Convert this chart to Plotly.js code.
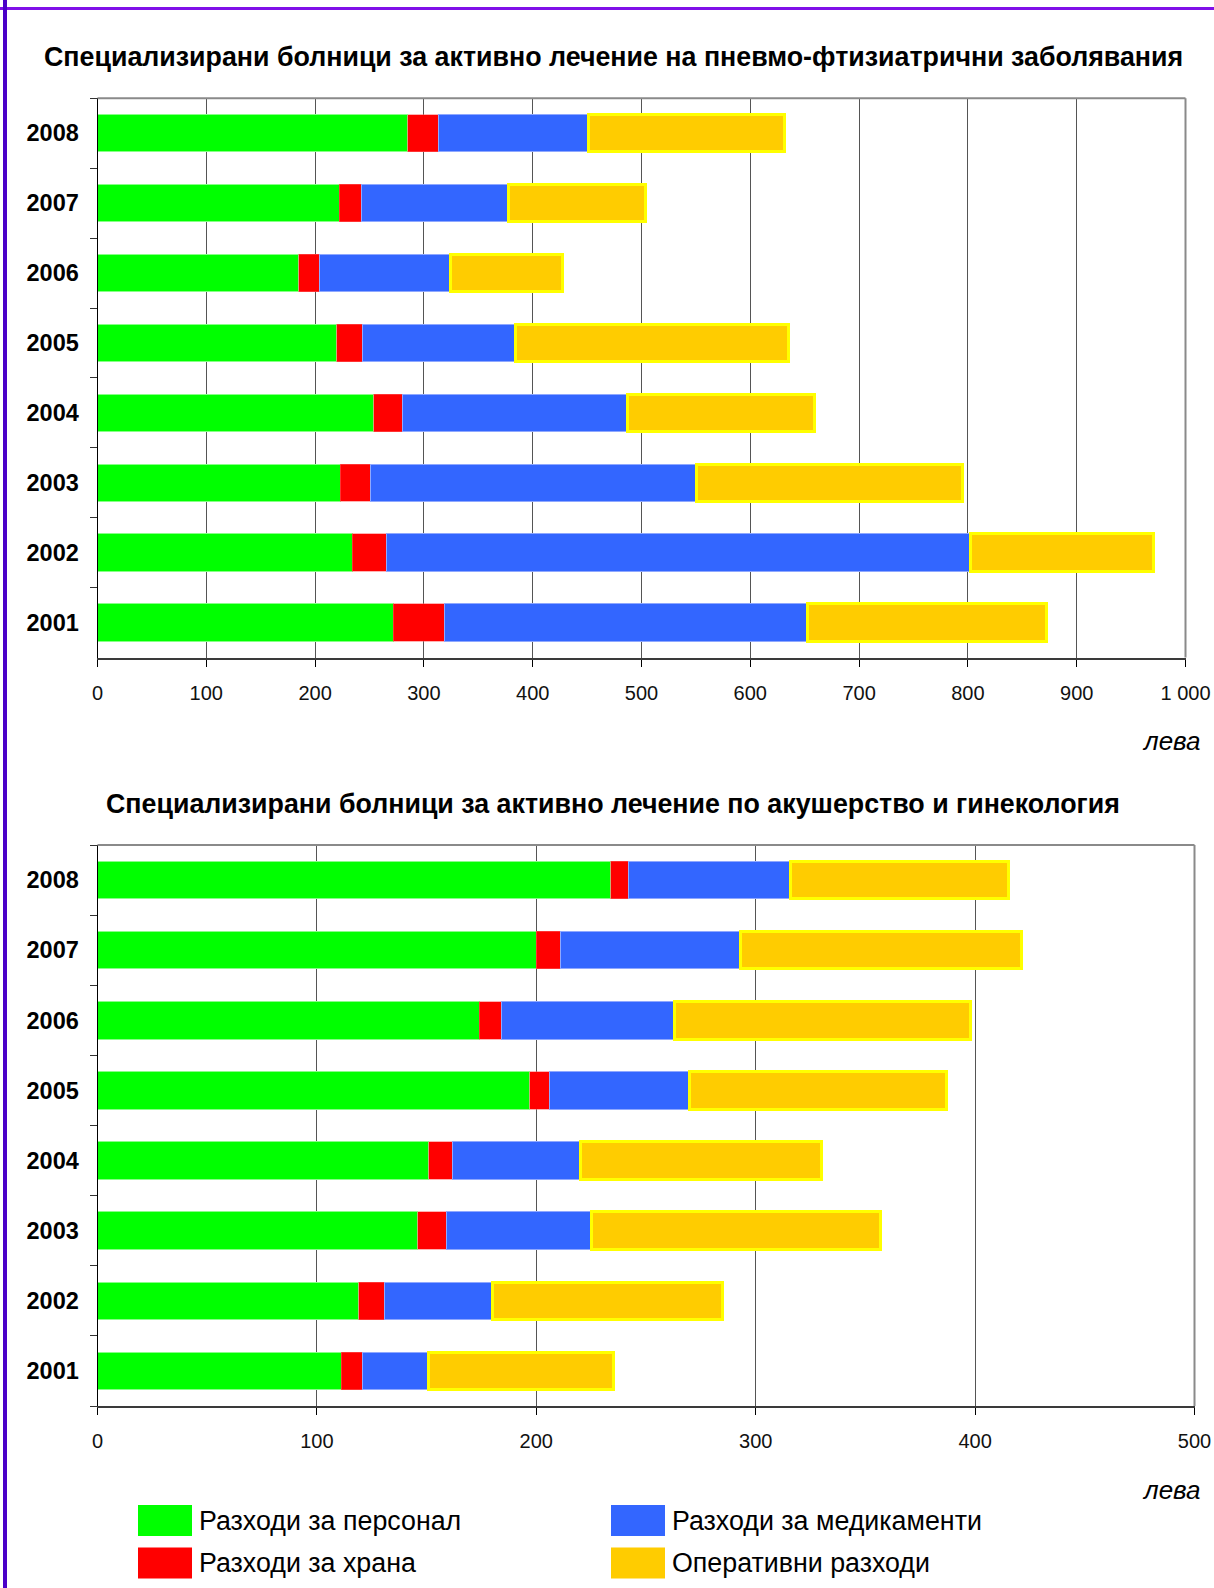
<!DOCTYPE html>
<html>
<head>
<meta charset="utf-8">
<script src="https://cdn.plot.ly/plotly-3.0.1.min.js"></script>
<style>
html, body { margin: 0; padding: 0; background: #ffffff; }
#chart { width: 1214px; height: 1588px; }
</style>
</head>
<body>
<div id="chart"></div>
<script>
// ---------- data ----------
const years = ['2001', '2002', '2003', '2004', '2005', '2006', '2007', '2008'];

const seriesNames = ['Разходи за персонал', 'Разходи за храна', 'Разходи за медикаменти', 'Оперативни разходи'];

// Chart 1: pneumo-phthisiatric hospitals (лева)
const pneumoPersonnel = [272, 234, 223, 254, 220, 185, 222, 285];
const pneumoFood      = [47, 32, 28, 26, 24, 19, 21, 28];
const pneumoMedicine  = [334, 536, 300, 207, 140, 120, 135, 138];
const pneumoOperating = [219, 169, 244, 172, 251, 103, 126, 180];

// Chart 2: obstetrics and gynaecology hospitals (лева)
const obstetPersonnel = [111, 119, 146, 151, 197, 174, 200, 234];
const obstetFood      = [10, 12, 13, 11, 9, 10, 11, 8];
const obstetMedicine  = [30, 49, 66, 58, 64, 79, 82, 74];
const obstetOperating = [84, 105, 132, 110, 117, 135, 128, 99];

const topTickVals = [0, 100, 200, 300, 400, 500, 600, 700, 800, 900, 1000];
const topTickText = ['0', '100', '200', '300', '400', '500', '600', '700', '800', '900', '1 000'];
const bottomTickVals = [0, 100, 200, 300, 400, 500];
const bottomTickText = ['0', '100', '200', '300', '400', '500'];

const titleTop = 'Специализирани болници за активно лечение на пневмо-фтизиатрични заболявания';
const titleBottom = 'Специализирани болници за активно лечение по акушерство и гинекология';
const unitLabel = 'лева';

// ---------- styles ----------
const W = 1214, H = 1588;
const FONT = 'Liberation Sans, Arial, Helvetica, sans-serif';
const fills = ['#00FF00', '#FF0000', '#3366FF', '#FFCC00'];
const edges = [
  {color: '#88ff88', width: 1},
  {color: '#ff6666', width: 0.5},
  {color: '#8fa8ff', width: 1},
  {color: '#FFFF00', width: 3}
];
const px = v => v / W;
const py = v => 1 - v / H;

function makeTraces(valuesList, xa, ya) {
  return valuesList.map((vals, i) => ({
    type: 'bar',
    orientation: 'h',
    name: seriesNames[i],
    y: years,
    x: vals,
    xaxis: xa,
    yaxis: ya,
    marker: {color: fills[i], line: edges[i]},
    showlegend: false,
    hoverinfo: 'skip'
  }));
}

const data = [
  ...makeTraces([pneumoPersonnel, pneumoFood, pneumoMedicine, pneumoOperating], 'x', 'y'),
  ...makeTraces([obstetPersonnel, obstetFood, obstetMedicine, obstetOperating], 'x2', 'y2')
];

function xAxis(domain, range, tv, tt, anchor) {
  return {
    domain: domain, range: range, anchor: anchor,
    tickmode: 'array', tickvals: tv, ticktext: tt,
    ticks: 'outside', ticklen: 7, tickwidth: 1, tickcolor: '#000',
    showgrid: true, gridcolor: '#555555', gridwidth: 1,
    showline: true, linecolor: '#3a3a3a', linewidth: 2,
    zeroline: false, fixedrange: true,
    ticklabelstandoff: 9,
    tickfont: {family: FONT, size: 20, color: '#111'}
  };
}
function yAxis(domain, anchor) {
  return {
    domain: domain, anchor: anchor,
    type: 'category', categoryorder: 'array', categoryarray: years,
    range: [-0.5, 7.5],
    ticks: 'outside', tickson: 'boundaries', ticklen: 7, tickwidth: 1, tickcolor: '#333',
    showgrid: false, showline: true, linecolor: '#000', linewidth: 1,
    zeroline: false, fixedrange: true,
    ticklabelstandoff: 13,
    tickfont: {family: FONT, size: 23.5, color: '#000', weight: 'bold'}
  };
}

function borderShapes(xr, yr) {
  const line = {color: '#8a8a8a', width: 2};
  return [
    {type: 'line', xref: xr + ' domain', yref: yr + ' domain', x0: 0, x1: 1, y0: 1, y1: 1, line: line, layer: 'above'},
    {type: 'line', xref: xr + ' domain', yref: yr + ' domain', x0: 1, x1: 1, y0: 0, y1: 1, line: line, layer: 'above'}
  ];
}

const shapes = [
  ...borderShapes('x', 'y'),
  ...borderShapes('x2', 'y2'),
  // page frame
  {type: 'line', xref: 'paper', yref: 'paper', x0: 0, x1: 1, y0: py(8.5), y1: py(8.5), line: {color: '#8010E8', width: 3}},
  {type: 'line', xref: 'paper', yref: 'paper', x0: px(5), x1: px(5), y0: 0, y1: 1, line: {color: '#4A00C8', width: 4}}
];

// legend swatches + texts
const legendPos = [
  {x: 138, y: 1520.5},
  {x: 138, y: 1563},
  {x: 611, y: 1520.5},
  {x: 611, y: 1563}
];
const annotations = [];
legendPos.forEach((p, i) => {
  shapes.push({
    type: 'rect', xref: 'paper', yref: 'paper',
    x0: px(p.x), x1: px(p.x + 54), y0: py(p.y - 15.5), y1: py(p.y + 15.5),
    fillcolor: fills[i], line: {width: 0}
  });
  annotations.push({
    xref: 'paper', yref: 'paper', x: px(p.x + 59), y: py(p.y),
    xanchor: 'left', yanchor: 'middle', showarrow: false,
    text: seriesNames[i], font: {family: FONT, size: 26.8, color: '#000'}
  });
});

annotations.push(
  {xref: 'paper', yref: 'paper', x: px(613.5), y: py(56.7), xanchor: 'center', yanchor: 'middle', showarrow: false,
   text: titleTop, font: {family: FONT, size: 26.8, color: '#000', weight: 'bold'}},
  {xref: 'paper', yref: 'paper', x: px(613), y: py(804), xanchor: 'center', yanchor: 'middle', showarrow: false,
   text: titleBottom, font: {family: FONT, size: 26.8, color: '#000', weight: 'bold'}},
  {xref: 'paper', yref: 'paper', x: px(1203), y: py(741), xanchor: 'right', yanchor: 'middle', showarrow: false,
   text: unitLabel, font: {family: FONT, size: 26, color: '#000', style: 'italic'}},
  {xref: 'paper', yref: 'paper', x: px(1203), y: py(1489.5), xanchor: 'right', yanchor: 'middle', showarrow: false,
   text: unitLabel, font: {family: FONT, size: 26, color: '#000', style: 'italic'}}
);

const layout = {
  width: W, height: H,
  margin: {l: 0, r: 0, t: 0, b: 0, pad: 0},
  paper_bgcolor: '#ffffff', plot_bgcolor: '#ffffff',
  barmode: 'stack', bargap: 0.465,
  showlegend: false,
  xaxis: xAxis([px(97.5), px(1185.5)], [0, 1000], topTickVals, topTickText, 'y'),
  yaxis: yAxis([py(657.5), py(98.3)], 'x'),
  xaxis2: xAxis([px(97.5), px(1194.5)], [0, 500], bottomTickVals, bottomTickText, 'y2'),
  yaxis2: yAxis([py(1406), py(845)], 'x2'),
  shapes: shapes,
  annotations: annotations,
  font: {family: FONT}
};

Plotly.newPlot('chart', data, layout, {displayModeBar: false, staticPlot: true});
</script>
</body>
</html>
